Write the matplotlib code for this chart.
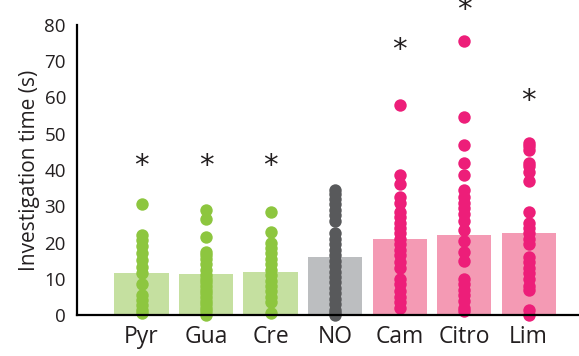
import matplotlib
matplotlib.use('Agg')
import matplotlib.pyplot as plt
import numpy as np

plt.rcParams['font.family'] = ['Open Sans', 'DejaVu Sans']

# groups and bar means
groups = ['Pyr', 'Gua', 'Cre', 'NO', 'Cam', 'Citro', 'Lim']
means = [11.5, 11.4, 12.0, 15.9, 21.0, 22.1, 22.5]

# individual investigation times (s)
pyr = [30.5, 22, 20.7, 19, 17, 15.2, 13.3, 11.5, 8.7, 5.5, 4.1, 2.8, 1.4, 0.5]
gua = [29, 26.5, 21.4, 17.5, 16.5, 15.5, 14, 12.5, 11, 10, 9, 8, 7, 6, 5, 4, 3, 2, 1, 0]
cre = [28.3, 23, 20, 18.5, 17, 15.5, 14, 12.5, 11, 9.5, 8, 6.5, 5, 3.5, 0.5]
no = [34.5, 33.5, 32, 30.5, 29, 27.5, 26, 22.5, 21, 19.5, 18, 16.5, 15, 13.5,
      12, 10.5, 9, 7.5, 6, 4.5, 3, 1.5, 0.5, 0]
cam = [58, 38.5, 36, 32.5, 31, 28.5, 27, 25.5, 24, 22.5, 21, 19.5, 18, 16.5,
       14.5, 13, 10, 8.5, 6.5, 5, 3.5, 2]
citro = [75.5, 54.5, 47, 42, 38.5, 34.5, 32.5, 31, 29.5, 28, 26, 23.5, 20.5,
         17.5, 15, 10, 8.5, 7, 5.5, 4, 2, 1]
lim = [47.5, 46.5, 45.5, 42, 41, 39.5, 37, 28.5, 25.5, 24, 22.5, 21, 19.5, 16,
       14.5, 13, 11.5, 10, 8, 7, 1.5, 0]
points = [pyr, gua, cre, no, cam, citro, lim]

# significance stars (None = no star)
star_y = [41, 41, 41, None, 73, 84, 59]

bar_colors = ['#C5E0A0'] * 3 + ['#BCBEC0'] + ['#F49AB4'] * 3
dot_colors = ['#8DC63F'] * 3 + ['#58595B'] + ['#ED1E79'] * 3
text_color = '#231F20'

fig = plt.figure(figsize=(5.79, 3.56), dpi=100)
ax = fig.add_axes([0.133, 0.115, 0.867, 0.815])

x = np.arange(1, len(groups) + 1)
ax.bar(x, means, width=0.84, color=bar_colors, zorder=1)

for xi, vals, c in zip(x, points, dot_colors):
    ax.scatter(np.full(len(vals), xi), vals, s=80, color=c, linewidths=0,
               zorder=2, clip_on=False)

for xi, sy in zip(x, star_y):
    if sy is not None:
        ax.text(xi, sy, '*', ha='center', va='center', fontsize=21,
                color=text_color, clip_on=False, family='DejaVu Sans')

ax.set_xlim(0, 7.78)
ax.set_ylim(0, 80)
ax.set_yticks(np.arange(0, 81, 10))
ax.set_xticks(x)
ax.set_xticklabels(groups)
ax.tick_params(axis='y', length=0, pad=8, labelsize=13.5, labelcolor=text_color)
ax.tick_params(axis='x', length=0, pad=7, labelsize=16.5, labelcolor=text_color)
ax.set_ylabel('Investigation time (s)', fontsize=15, color=text_color, labelpad=3)

for s in ['top', 'right']:
    ax.spines[s].set_visible(False)
for s in ['left', 'bottom']:
    ax.spines[s].set_linewidth(1.6)
    ax.spines[s].set_color('black')

fig.savefig('out.png', dpi=100)
